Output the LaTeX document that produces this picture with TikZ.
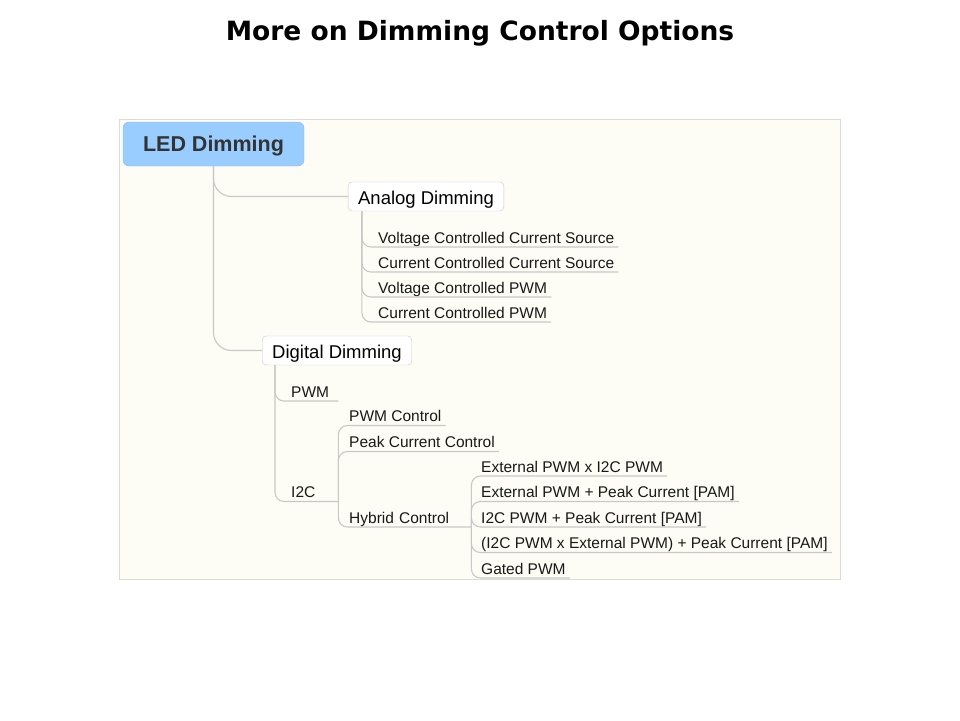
\documentclass[tikz,border=0pt]{standalone}
\usepackage{fontspec}
\setmainfont{Liberation Sans}
\newfontfamily\titlefont{DejaVu Sans}
\usetikzlibrary{positioning}

\definecolor{panelfill}{HTML}{FDFDF6}
\definecolor{panelline}{HTML}{DCDCD4}
\definecolor{rootfill}{HTML}{99CCFF}
\definecolor{rootline}{HTML}{88BBEE}
\definecolor{linkgray}{HTML}{C8C8C8}

\tikzset{
  rootbox/.style={draw=rootline, fill=rootfill, rounded corners=6pt, minimum width=181pt, minimum height=44pt, text height=15pt, text depth=1pt, font=\fontsize{21.5}{24}\selectfont\bfseries, text=black!80},
  topicbox/.style={draw=linkgray, fill=white, rounded corners=4pt, minimum height=29pt, inner xsep=10pt, text height=16pt, text depth=1pt, font=\fontsize{18.5}{22}\selectfont},
  leaf/.style={anchor=south west, inner xsep=4pt, inner ysep=3.8pt, text height=11pt, text depth=0pt, font=\fontsize{15.5}{18}\selectfont, text=black!90},
  link/.style={draw=linkgray, line width=1.1pt, rounded corners=9pt},
}

\begin{document}
\begin{tikzpicture}[x=1pt,y=-1pt]
\useasboundingbox (0,0) rectangle (960,720);
\node[font={\titlefont\fontsize{26.5}{30}\selectfont\bfseries}] (title) at (480,33) {More on Dimming Control Options};
\draw[draw=panelline, fill=panelfill] (119,119) rectangle (840,579);

% main topics
\node[rootbox] (led) at (213.5,144) {LED Dimming};
\node[topicbox] (analog) at (426,196.5) {Analog Dimming};
\node[topicbox] (digital) at (337,350.5) {Digital Dimming};
\coordinate (astem) at ([xshift=14pt]analog.south west);
\coordinate (dstem) at ([xshift=13pt]digital.south west);

% analog
\node[leaf] (vcs) at (374,247) {Voltage Controlled Current Source};
\node[leaf] (ccs) at (374,272) {Current Controlled Current Source};
\node[leaf] (vpwm) at (374,297) {Voltage Controlled PWM};
\node[leaf] (cpwm) at (374,322) {Current Controlled PWM};

% digital
\node[leaf, text width=43pt, align=left] (pwm) at (287,401) {PWM};
\node[leaf, text width=43pt, align=left] (i2c) at (287,501.5) {I2C};
\node[leaf] (pwmctl) at (345,425.5) {PWM Control};
\node[leaf] (peak) at (345,451.5) {Peak Current Control};
\node[leaf, text width=118pt, align=left] (hybrid) at (345,527) {Hybrid Control};

% hybrid
\node[leaf] (extxi2c) at (477,476) {External PWM x I2C PWM};
\node[leaf] (extpam) at (477,501.5) {External PWM + Peak Current [PAM]};
\node[leaf] (i2cpam) at (477,527) {I2C PWM + Peak Current [PAM]};
\node[leaf] (mixpam) at (477,552.5) {(I2C PWM x External PWM) + Peak Current [PAM]};
\node[leaf] (gated) at (477,578) {Gated PWM};

\draw[link, rounded corners=18pt] (led.south) |- (analog.west);
\draw[link, rounded corners=18pt] (led.south) |- (digital.west);
\foreach \c in {vcs,ccs,vpwm,cpwm}
  \draw[link] (astem) |- (\c.south east);
\foreach \c in {pwm,i2c}
  \draw[link] (dstem) |- (\c.south east);
\foreach \c in {pwmctl,peak,hybrid}
  \draw[link] (i2c.south east) |- (\c.south east);
\foreach \c in {extxi2c,extpam,i2cpam,mixpam,gated}
  \draw[link] (hybrid.south east) |- (\c.south east);
\end{tikzpicture}
\end{document}
